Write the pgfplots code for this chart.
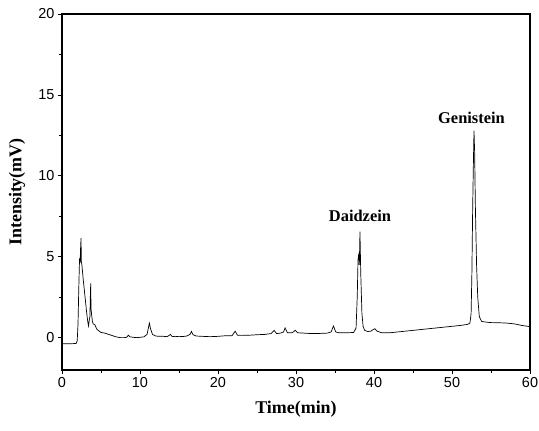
\documentclass[border=0pt]{standalone}
\usepackage{fontspec}
\setmainfont{Liberation Serif}
\newfontfamily\arial{Liberation Sans}
\usepackage{pgfplots}
\pgfplotsset{compat=1.18}
\begin{document}
\begin{tikzpicture}[x=1bp,y=1bp]
\begin{axis}[
  name=ax,
  scale only axis,
  width=468bp, height=356bp,
  xmin=0, xmax=60, ymin=-2, ymax=20,
  xtick={0,10,20,30,40,50,60},
  ytick={0,5,10,15,20},
  minor x tick num=1, minor y tick num=1,
  tick pos=left, tick align=outside,
  major tick length=4bp, minor tick length=3bp,
  axis line style={line width=1.1bp},
  every tick/.style={line width=0.8bp, black},
  /pgf/number format/assume math mode=true,
  tick label style={font=\arial\fontsize{14.5}{14.5}\selectfont},
  xlabel={\textbf{Time(min)}},
  ylabel={\textbf{Intensity(mV)}},
  label style={font=\fontsize{18}{18}\selectfont},
  xlabel style={at={(axis description cs:0.5,-0.11)}, anchor=center},
  ylabel style={at={(axis description cs:-0.096,0.5)}, anchor=center, rotate=0},
  clip=false,
]
\addplot[black, line width=0.7bp] coordinates {
(0,-0.38) (1.0,-0.38) (1.8,-0.36) (1.95,-0.2) (2.05,0.8) (2.15,3.0) (2.25,4.9) (2.32,4.6) (2.38,5.5) (2.44,6.15) (2.48,4.7) (2.55,4.5) (2.7,3.7) (2.85,3.0) (3.0,2.3) (3.15,1.6) (3.3,1.0) (3.4,0.72) (3.5,1.1) (3.58,1.3) (3.63,2.5) (3.68,3.35) (3.72,1.8) (3.8,1.4) (3.9,1.0) (4.0,0.85) (4.2,0.8) (4.5,0.5) (5.0,0.32) (5.5,0.28) (6.0,0.2) (6.5,0.12) (7.0,0.04) (7.5,0.0) (8.0,0.0) (8.3,0.02) (8.5,0.15) (8.7,0.05) (9.0,0.03) (9.5,0.0) (10.0,0.02) (10.5,0.05) (10.9,0.2) (11.1,0.65) (11.2,0.9) (11.35,0.55) (11.6,0.2) (12.0,0.1) (12.5,0.08) (13.0,0.08) (13.5,0.06) (13.9,0.2) (14.1,0.08) (14.5,0.06) (15.0,0.08) (15.5,0.07) (16.0,0.1) (16.4,0.2) (16.6,0.38) (16.8,0.18) (17.2,0.1) (18,0.08) (19,0.06) (20,0.08) (21,0.12) (21.8,0.12) (22.2,0.4) (22.5,0.15) (23,0.14) (24,0.15) (25,0.18) (26,0.2) (26.8,0.25) (27.2,0.45) (27.5,0.25) (28,0.28) (28.4,0.35) (28.6,0.6) (28.9,0.3) (29.5,0.3) (29.9,0.45) (30.2,0.3) (31,0.28) (32,0.25) (33,0.26) (34,0.28) (34.5,0.35) (34.8,0.72) (35.1,0.35) (35.5,0.3) (36.5,0.3) (37.4,0.32) (37.7,0.6) (37.85,2.5) (37.95,4.8) (38.05,5.2) (38.12,4.5) (38.2,6.55) (38.3,4.0) (38.45,1.5) (38.6,0.7) (38.8,0.45) (39.2,0.38) (39.6,0.4) (39.9,0.5) (40.1,0.55) (40.4,0.4) (41,0.3) (42,0.3) (43,0.35) (44,0.4) (45,0.45) (46,0.5) (47,0.55) (48,0.6) (49,0.65) (50,0.7) (51,0.75) (52,0.82) (52.3,0.9) (52.45,1.5) (52.55,4.0) (52.65,8.0) (52.75,11.0) (52.82,12.8) (52.9,11.5) (53.0,8.0) (53.15,4.5) (53.3,2.5) (53.5,1.3) (53.8,1.0) (54.5,0.95) (55,0.93) (56,0.92) (57,0.9) (58,0.85) (58.5,0.8) (59,0.75) (60,0.68)
};
\node[font=\bfseries\fontsize{16.5}{16.5}\selectfont] at (axis cs:38.2,7.5) {Daidzein};
\node[font=\bfseries\fontsize{16.5}{16.5}\selectfont] at (axis cs:52.5,13.6) {Genistein};
\end{axis}
\pgfresetboundingbox
\path[use as bounding box] ([xshift=-62bp,yshift=-60bp]ax.south west) rectangle ([xshift=9bp,yshift=14bp]ax.north east);
\end{tikzpicture}
\end{document}
